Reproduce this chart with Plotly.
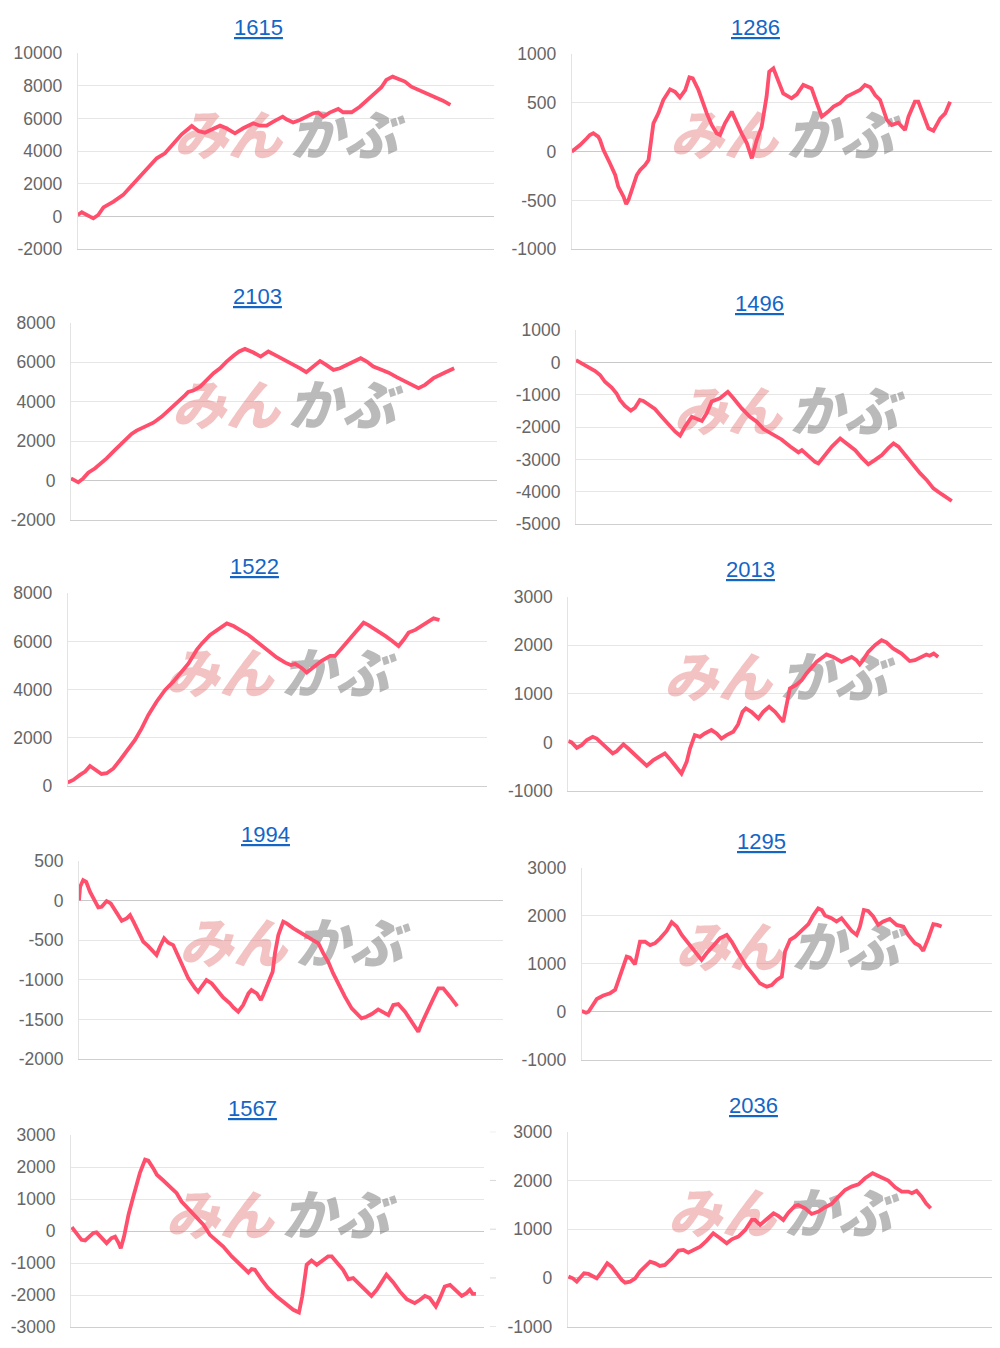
import plotly.graph_objects as go

# ---------------- data ----------------
codes = ["1615", "1286", "2103", "1496", "1522", "2013", "1994", "1295", "1567", "2036"]

days_1615 = [0, 1.1, 3.3, 4.2, 5.5, 6.9, 9.6, 12.2, 14.0, 16.3, 19.0, 21.2, 23.4, 25.6, 27.9, 30.6, 32.4, 34.1, 38.2, 39.9,
             42.2, 44.4, 47.1, 48.9, 50.7, 52.5, 55.0, 56.0, 57.8, 59.6, 63.2, 64.5, 65.9, 67.6, 69.9, 71.2, 73.5, 75.7, 78.4, 80.2,
             81.5, 82.8, 84.5, 86.0, 87.8, 89.5, 92.7, 95.4, 98.0, 100]
pnl_1615 = [100, 270, 0, -100, 100, 570, 920, 1330, 1780, 2350, 2960, 3570, 3880, 4490, 5040, 5550, 5240, 5140, 5570, 5410,
            5100, 5410, 5720, 5570, 5570, 5820, 6120, 5960, 5760, 5920, 6330, 6370, 6120, 6370, 6590, 6390, 6390, 6730, 7240, 7650,
            7920, 8370, 8570, 8410, 8270, 7960, 7650, 7350, 7100, 6840]

days_1286 = [0, 2.2, 4.0, 4.8, 5.7, 7.0, 7.5, 8.4, 10.1, 11.5, 12.3, 13.7, 14.4, 15.0, 15.9, 17.2, 18.1, 19.4, 20.3, 21.6,
             22.9, 24.2, 26.0, 27.3, 28.6, 30.0, 31.1, 32.0, 33.5, 34.4, 35.7, 37.0, 38.3, 39.2, 40.5, 42.3, 43.6, 44.9, 46.3, 47.6,
             48.9, 50.2, 51.5, 52.2, 53.3, 54.2, 55.9, 58.1, 59.5, 61.2, 63.4, 64.8, 66.1, 67.8, 69.2, 70.9, 72.7, 74.4, 76.2, 77.5,
             78.9, 80.2, 81.5, 83.3, 84.6, 86.3, 88.1, 89.0, 90.7, 91.6, 93.4, 94.3, 95.6, 97.4, 98.7, 100]
pnl_1286 = [0, 68, 137, 171, 188, 154, 119, 17, -119, -239, -358, -461, -536, -495, -392, -239, -188, -137, -85, 290,
            392, 529, 638, 614, 556, 631, 761, 751, 631, 529, 392, 273, 188, 171, 290, 410, 290, 188, 85, -68,
            119, 256, 563, 819, 853, 768, 597, 546, 587, 683, 648, 495, 358, 410, 461, 495, 563, 597, 631, 683,
            659, 580, 529, 324, 273, 297, 222, 358, 512, 512, 341, 239, 215, 341, 392, 512]

days_2103 = [0, 1.0, 1.9, 3.2, 4.5, 6.3, 8.0, 9.3, 11.5, 13.7, 15.8, 17.1, 18.9, 21.5, 23.7, 25.4, 27.6, 29.8, 30.6, 31.9,
             33.7, 35.4, 37.2, 38.9, 40.6, 42.4, 43.9, 45.4, 47.6, 49.5, 50.7, 51.5, 53.7, 55.9, 58.1, 59.8, 61.4, 63.3, 65.0, 66.6,
             68.5, 70.2, 72.0, 73.7, 75.6, 77.2, 78.9, 80.7, 82.9, 85.0, 87.2, 89.4, 90.7, 92.4, 94.6, 97.2, 100]
pnl_2103 = [110, -25, -90, 110, 400, 620, 900, 1120, 1550, 1970, 2360, 2530, 2680, 2930, 3240, 3530, 3910, 4330, 4490, 4560,
            4760, 5100, 5440, 5690, 6030, 6320, 6540, 6670, 6490, 6280, 6450, 6540, 6320, 6110, 5860, 5690, 5490, 5810, 6060, 5860,
            5610, 5690, 5860, 6030, 6200, 6030, 5780, 5640, 5470, 5240, 5020, 4800, 4680, 4850, 5190, 5440, 5690]

days_1496 = [0, 1.5, 2.8, 5.1, 6.4, 7.7, 9.5, 10.8, 11.7, 13.0, 14.6, 15.7, 17.0, 17.9, 19.3, 21.0, 22.8, 24.6, 26.4, 27.7,
             29.0, 30.8, 32.1, 33.5, 34.8, 36.1, 38.3, 39.2, 40.4, 41.9, 44.1, 46.3, 48.1, 49.9, 52.1, 54.7, 57.0, 59.2, 60.1, 61.8,
             63.6, 64.5, 66.3, 68.1, 70.3, 72.5, 74.3, 76.0, 77.8, 79.6, 81.4, 83.1, 84.5, 85.8, 87.6, 89.4, 91.6, 93.3, 95.1, 97.3, 100]
pnl_1496 = [70, -30, -130, -270, -390, -600, -780, -960, -1160, -1340, -1490, -1400, -1160, -1190, -1300, -1440, -1680, -1930, -2140, -2260,
            -1990, -1680, -1730, -1810, -1570, -1210, -1110, -1010, -910, -1110, -1420, -1680, -1830, -2060, -2210, -2380, -2600, -2780, -2710, -2890,
            -3070, -3120, -2860, -2600, -2350, -2530, -2710, -2940, -3150, -3010, -2860, -2650, -2500, -2600, -2860, -3150, -3430, -3630, -3890, -4070, -4280]

days_1522 = [0, 1.5, 3.3, 4.7, 6.0, 7.4, 9.1, 10.5, 12.3, 14.1, 15.9, 18.1, 19.9, 21.7, 23.9, 26.2, 28.4, 30.7, 32.5, 34.7,
             36.1, 38.3, 40.5, 42.8, 44.6, 46.4, 48.6, 50.9, 53.5, 56.2, 58.5, 60.0, 61.2, 63.0, 64.3, 66.1, 68.3, 70.6, 71.9, 73.7,
             76.0, 77.8, 79.6, 80.9, 83.1, 85.4, 87.2, 89.0, 90.3, 91.7, 93.5, 95.2, 97.0, 98.4, 100]
pnl_1522 = [140, 250, 460, 600, 830, 690, 500, 530, 730, 1080, 1430, 1910, 2390, 2950, 3500, 3990, 4330, 4750, 5090, 5650,
            5920, 6270, 6520, 6750, 6640, 6480, 6270, 5990, 5650, 5340, 5120, 5020, 5070, 4890, 4710, 4950, 5200, 5400, 5400, 5720,
            6130, 6500, 6780, 6680, 6480, 6230, 6030, 5810, 6060, 6370, 6480, 6640, 6820, 6960, 6890]

days_2013 = [0, 0.9, 2.3, 3.6, 5.0, 6.6, 7.7, 9.0, 10.4, 12.0, 13.1, 14.9, 16.2, 18.0, 19.8, 21.2, 23.0, 24.3, 26.1, 27.5,
             28.8, 30.6, 32.0, 32.9, 34.2, 35.6, 36.9, 38.7, 40.1, 41.4, 42.8, 44.6, 45.9, 47.1, 48.0, 49.5, 51.4, 52.7, 54.3, 55.9,
             57.2, 58.1, 59.0, 59.9, 61.5, 63.1, 64.4, 67.1, 69.8, 71.6, 73.9, 75.2, 76.6, 77.9, 78.8, 79.7, 81.1, 82.9, 84.7, 86.0,
             87.8, 90.1, 92.3, 93.7, 95.5, 96.8, 97.7, 98.8, 100]
pnl_2013 = [30, 0, -110, -55, 50, 115, 80, -20, -125, -225, -180, -40, -125, -260, -400, -480, -365, -315, -225, -345,
            -465, -640, -400, -125, 150, 115, 185, 255, 185, 80, 150, 220, 370, 630, 700, 630, 495, 630, 735, 630,
            510, 425, 770, 1110, 1180, 1280, 1420, 1660, 1810, 1760, 1660, 1715, 1760, 1695, 1605, 1695, 1865, 2000, 2105, 2060,
            1935, 1830, 1675, 1695, 1760, 1810, 1785, 1830, 1760]

days_1994 = [0, 0.3, 1.1, 1.9, 2.9, 4.2, 5.1, 6.0, 7.3, 8.4, 9.5, 10.4, 11.3, 12.6, 13.5, 14.4, 15.7, 17.0, 18.3, 19.6,
             20.5, 21.4, 22.5, 23.6, 24.9, 26.3, 27.6, 28.9, 30.7, 31.5, 32.4, 33.7, 35.1, 36.8, 38.1, 39.9, 40.8, 42.1, 43.4, 44.8,
             45.6, 47.0, 48.1, 48.7, 50.0, 51.2, 51.8, 52.7, 54.0, 54.9, 56.7, 58.9, 61.1, 63.3, 64.6, 65.9, 67.2, 68.5, 70.3, 72.1,
             73.4, 74.7, 76.0, 77.4, 79.1, 80.4, 81.8, 83.1, 84.4, 86.2, 87.9, 89.7, 90.6, 92.3, 93.7, 95.0, 96.3, 98.1, 100]
pnl_1994 = [0, 172, 256, 235, 109, -17, -88, -80, -8, -38, -122, -206, -256, -227, -185, -268, -394, -520, -575, -633,
            -688, -583, -478, -533, -562, -709, -835, -982, -1107, -1149, -1087, -1003, -1045, -1149, -1221, -1296, -1347, -1401, -1317, -1170,
            -1128, -1170, -1254, -1191, -1045, -898, -667, -436, -268, -289, -352, -415, -478, -541, -667, -772, -919, -1045, -1212, -1359,
            -1422, -1485, -1464, -1430, -1372, -1401, -1443, -1317, -1305, -1401, -1527, -1653, -1548, -1359, -1233, -1107, -1107, -1212, -1330]

days_1295 = [0, 1.2, 1.9, 2.8, 4.2, 6.0, 7.9, 9.3, 10.2, 11.1, 12.5, 13.4, 14.8, 16.2, 17.6, 19.0, 20.4, 21.8, 23.6, 25.0,
             26.4, 27.8, 29.6, 31.5, 33.3, 34.7, 36.6, 38.4, 40.3, 41.7, 43.5, 45.8, 47.7, 49.5, 51.4, 52.8, 54.2, 55.6, 56.5, 57.9,
             59.3, 61.1, 63.0, 64.4, 65.7, 66.7, 67.6, 69.4, 70.8, 72.2, 73.6, 75.0, 76.4, 77.3, 78.4, 79.6, 81.0, 82.4, 83.8, 85.6,
             87.5, 89.4, 90.7, 92.6, 93.8, 94.9, 96.3, 97.7, 98.8, 100]
pnl_1295 = [20, -15, 5, 110, 270, 340, 390, 460, 665, 840, 1150, 1130, 990, 1460, 1460, 1390, 1430, 1530, 1685, 1865,
            1775, 1600, 1430, 1255, 1080, 1220, 1395, 1530, 1600, 1460, 1220, 945, 770, 595, 525, 560, 665, 735, 1255, 1500,
            1565, 1685, 1825, 2015, 2155, 2120, 2005, 1950, 1880, 1950, 1825, 1685, 1600, 1775, 2120, 2100, 1985, 1810, 1880, 1935,
            1810, 1775, 1600, 1430, 1380, 1270, 1530, 1825, 1810, 1775]

days_1567 = [0.2, 1.4, 2.6, 3.5, 4.3, 5.5, 6.3, 7.2, 8.8, 10.0, 10.9, 11.7, 12.3, 13.1, 14.2, 15.4, 17.0, 18.3, 19.1, 20.3,
             21.2, 22.8, 24.4, 26.1, 27.3, 29.0, 31.0, 32.7, 34.3, 36.0, 37.6, 39.7, 41.7, 43.8, 44.6, 45.4, 47.1, 48.7, 50.8, 52.8,
             54.9, 56.3, 57.1, 58.2, 59.4, 60.7, 61.9, 63.5, 64.4, 65.6, 67.2, 68.5, 69.7, 71.4, 73.0, 74.2, 75.5, 76.7, 77.9, 79.6,
             81.2, 82.9, 84.9, 86.2, 87.4, 88.6, 90.1, 91.1, 92.3, 93.6, 94.8, 96.5, 97.7, 98.5, 99.2, 100]
pnl_1567 = [125, -60, -270, -290, -190, -60, -40, -170, -375, -220, -170, -355, -530, -170, 510, 1080, 1810, 2230, 2200, 1965,
            1760, 1580, 1370, 1185, 925, 690, 405, 200, -115, -320, -480, -790, -1050, -1290, -1185, -1205, -1520, -1780, -2040, -2245,
            -2455, -2540, -2040, -1050, -915, -1050, -950, -790, -790, -950, -1205, -1500, -1465, -1675, -1880, -2020, -1830, -1600, -1360, -1600,
            -1880, -2120, -2245, -2140, -2020, -2090, -2350, -2090, -1725, -1675, -1810, -2020, -1935, -1830, -1955, -1955]

days_2036 = [0.2, 1.4, 2.5, 3.4, 4.5, 5.7, 7.1, 8.0, 9.4, 10.9, 12.1, 13.5, 14.9, 15.8, 17.2, 18.6, 19.9, 21.3, 22.7, 24.1,
             25.4, 26.8, 28.7, 30.5, 31.9, 33.2, 34.6, 36.5, 38.3, 40.1, 42.0, 43.8, 45.2, 47.0, 48.9, 50.7, 51.6, 53.0, 54.8, 56.7,
             58.0, 59.4, 60.8, 62.6, 63.5, 65.4, 67.2, 69.1, 70.9, 72.7, 74.6, 76.4, 78.2, 80.1, 81.9, 84.0, 85.6, 87.0, 88.3, 90.2,
             92.0, 93.8, 94.8, 96.1, 97.5, 98.7, 100]
pnl_2036 = [27, -7, -75, -7, 96, 82, 14, -7, 130, 300, 232, 96, -41, -96, -75, -7, 130, 232, 335, 300,
            246, 267, 403, 560, 574, 520, 574, 643, 766, 916, 814, 711, 793, 848, 985, 1190, 1190, 1087, 1204, 1327,
            1272, 1190, 1340, 1477, 1498, 1429, 1313, 1361, 1450, 1518, 1668, 1805, 1874, 1921, 2045, 2147, 2093, 2045, 1997, 1860,
            1771, 1771, 1737, 1785, 1668, 1532, 1429]

all_days = [days_1615, days_1286, days_2103, days_1496, days_1522, days_2013, days_1994, days_1295, days_1567, days_2036]
all_pnl = [pnl_1615, pnl_1286, pnl_2103, pnl_1496, pnl_1522, pnl_2013, pnl_1994, pnl_1295, pnl_1567, pnl_2036]

y_min = [-2000, -1000, -2000, -5000, 0, -1000, -2000, -1000, -3000, -1000]
y_max = [10000, 1000, 8000, 1000, 8000, 3000, 500, 3000, 3000, 3000]
y_step = [2000, 500, 2000, 1000, 2000, 1000, 500, 1000, 1000, 1000]

# ---------------- layout geometry (page pixels) ----------------
PAGE_OFF = 8                      # default body margin of the html page
FIG_W, FIG_H = 1000 - PAGE_OFF, 1348 - PAGE_OFF
boxes = [  # left, right, top, bottom of each plot area (page coordinates)
    (77.7, 494.0, 53.3, 249.3),
    (571.7, 991.7, 54.0, 249.3),
    (71.0, 496.7, 322.7, 520.0),
    (576.0, 995.0, 330.0, 524.3),
    (67.7, 486.7, 593.3, 786.0),
    (568.3, 983.3, 596.7, 791.0),
    (79.0, 503.0, 860.7, 1059.3),
    (581.7, 992.7, 867.7, 1060.0),
    (71.0, 484.0, 1135.0, 1327.3),
    (567.7, 991.7, 1131.7, 1326.7),
]
title_pos = [(258, 27), (755, 27), (257, 296), (759.3, 303), (254, 567),
             (750, 570), (265, 834), (761.7, 841), (252.3, 1108), (753.3, 1105)]
x_span = [111.7, 111.0, 111.1, 111.5, 112.7, 112.2, 112.1, 114.2, 102.0, 116.8]


def px(xp):
    return (xp - PAGE_OFF) / FIG_W


def py(yp):
    return 1 - (yp - PAGE_OFF) / FIG_H


LINE_COLOR = "#ff4f6d"
GRID = "#e6e6e6"
ZERO = "#c9c9c9"
TICK_FONT = dict(family="Liberation Sans, Arial, sans-serif", size=17.5, color="#666666")

fig = go.Figure()
layout_axes = {}
annotations = []
shapes = []

for i in range(10):
    l, r, t, b = boxes[i]
    sfx = "" if i == 0 else str(i + 1)
    xa, ya = "x" + sfx, "y" + sfx
    xspan = x_span[i]
    ylo, yhi = y_min[i], y_max[i]
    wpx, hpx = r - l, b - t

    # watermark (drawn beneath the line)
    cx = xspan / 2
    cy = (ylo + yhi) / 2 + 10 * (yhi - ylo) / hpx
    off = 58 * xspan / wpx
    fig.add_trace(go.Scatter(
        x=[cx - off, cx + off], y=[cy, cy], mode="text", text=["みん", "かぶ"],
        textposition="middle center",
        textfont=dict(family="Noto Sans CJK JP", size=54, weight=900, style="italic",
                      color=["rgba(222,85,85,0.36)", "rgba(110,110,110,0.48)"]),
        xaxis=xa, yaxis=ya, hoverinfo="skip", showlegend=False, cliponaxis=False))

    fig.add_trace(go.Scatter(
        x=all_days[i], y=all_pnl[i], mode="lines",
        line=dict(color=LINE_COLOR, width=3.8),
        xaxis=xa, yaxis=ya, hoverinfo="skip", showlegend=False))

    tv = list(range(ylo, yhi + 1, y_step[i]))
    layout_axes["xaxis" + sfx] = dict(
        domain=[px(l), px(r)], range=[0, xspan], anchor=ya, automargin=False,
        showgrid=False, zeroline=False, showticklabels=False, ticks="",
        showline=True, linecolor="#cfcfcf", linewidth=1, fixedrange=True)
    layout_axes["yaxis" + sfx] = dict(
        domain=[py(b), py(t)], range=[ylo, yhi], anchor=xa, automargin=False,
        tickvals=tv, ticktext=[str(v) for v in tv], tickfont=TICK_FONT,
        ticks="", ticklabelstandoff=11,
        showgrid=True, gridcolor=GRID, gridwidth=1,
        zeroline=True, zerolinecolor=ZERO, zerolinewidth=1,
        showline=True, linecolor="#e3e3e3", linewidth=1, fixedrange=True)

    tx, ty = title_pos[i]
    annotations.append(dict(
        text="<u>" + codes[i] + "</u>", x=px(tx), y=py(ty),
        xref="paper", yref="paper", xanchor="center", yanchor="middle", showarrow=False,
        font=dict(family="Liberation Sans, Arial, sans-serif", size=22, color="#1466c6")))

# small stray tick dashes left of the last chart
for v in range(y_min[9], y_max[9] + 1, y_step[9]):
    shapes.append(dict(type="line", xref="paper", yref="y10", x0=px(490), x1=px(496), y0=v, y1=v,
                       line=dict(color="#d8d8d8", width=1)))

fig.update_layout(
    width=FIG_W, height=FIG_H,
    margin=dict(l=0, r=0, t=0, b=0, pad=0, autoexpand=False),
    paper_bgcolor="white", plot_bgcolor="white", showlegend=False,
    annotations=annotations, shapes=shapes, **layout_axes)

fig.write_html("out.html")
